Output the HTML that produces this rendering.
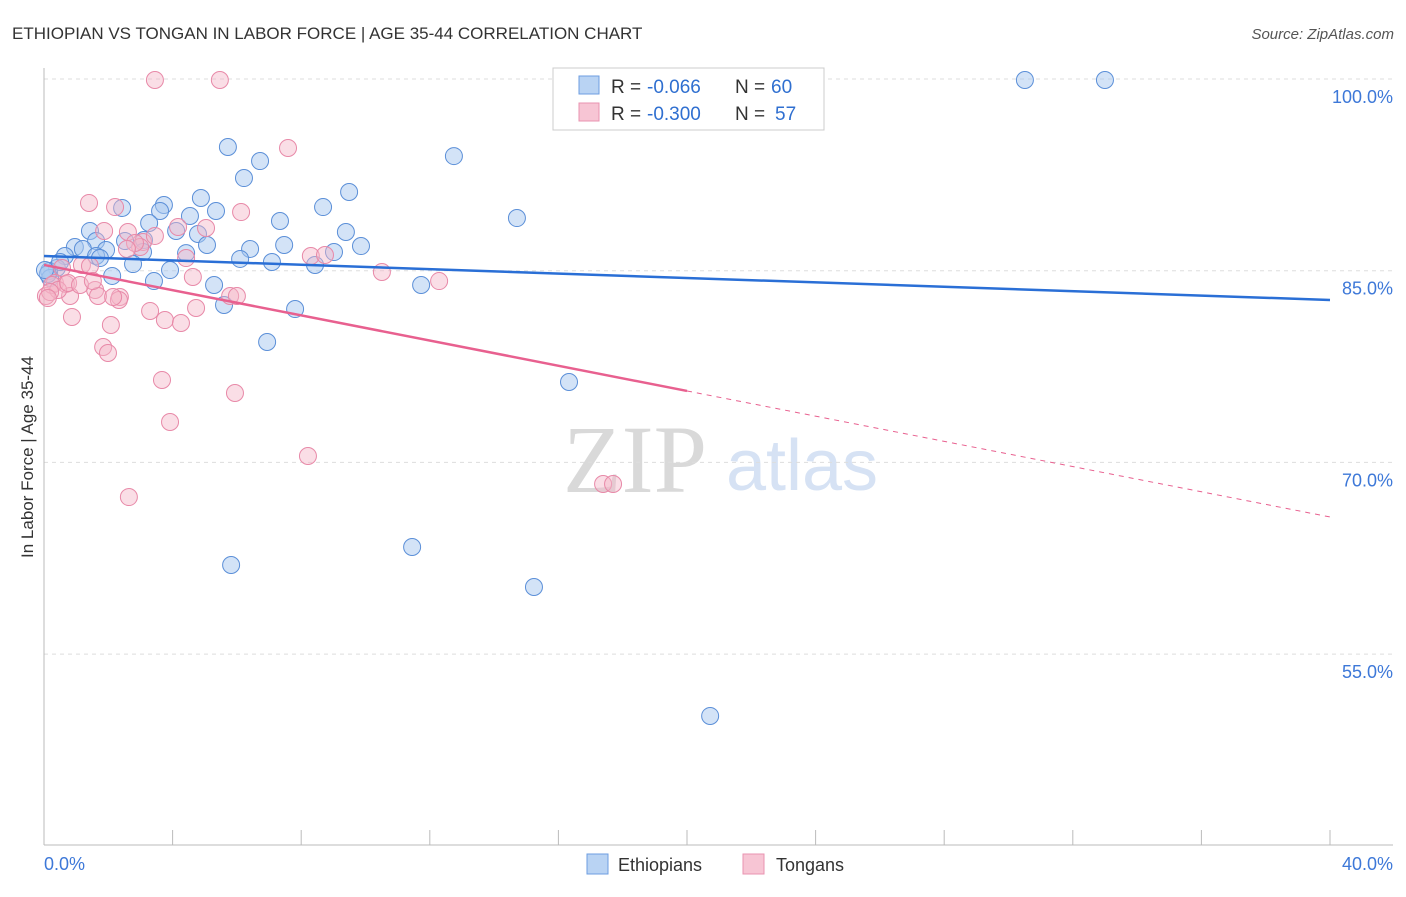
<!DOCTYPE html>
<html><head><meta charset="utf-8"><style>
body{margin:0;background:#fff;font-family:"Liberation Sans",sans-serif}
</style></head><body>
<svg id="c" width="1406" height="892" font-family="Liberation Sans, sans-serif">
<text x="12" y="39" font-size="17" fill="#333">ETHIOPIAN VS TONGAN IN LABOR FORCE | AGE 35-44 CORRELATION CHART</text>
<text x="1394" y="39" font-size="15" fill="#555" font-style="italic" text-anchor="end">Source: ZipAtlas.com</text>
<text x="33" y="457" font-size="17" fill="#333" transform="rotate(-90 33 457)" text-anchor="middle">In Labor Force | Age 35-44</text>
<text x="635" y="492" font-size="96" fill="#d9d9d9" style="font-family:'Liberation Serif',serif" text-anchor="middle">ZIP</text>
<text x="802" y="490" font-size="72" fill="#d6e2f4" text-anchor="middle">atlas</text>
<g id="grid"></g><g id="pts"></g><g id="lines"></g>
<g>
<rect x="553" y="68" width="271" height="62" fill="#fff" stroke="#ccc"/>
<rect x="579" y="76" width="20" height="18" fill="#b9d3f3" stroke="#6d9ee0"/>
<rect x="579" y="103" width="20" height="18" fill="#f7c5d4" stroke="#ea93b0"/>
<text y="93" font-size="19" fill="#333"><tspan x="611">R =</tspan><tspan x="647" fill="#2f6fd0">-0.066</tspan><tspan x="735">N =</tspan><tspan x="771" fill="#2f6fd0">60</tspan></text>
<text y="120" font-size="19" fill="#333"><tspan x="611">R =</tspan><tspan x="647" fill="#2f6fd0">-0.300</tspan><tspan x="735">N =</tspan><tspan x="775" fill="#2f6fd0">57</tspan></text>
</g>
<g>
<rect x="587" y="854" width="21" height="20" fill="#b9d3f3" stroke="#6d9ee0"/>
<text x="618" y="871" font-size="18" fill="#333">Ethiopians</text>
<rect x="743" y="854" width="21" height="20" fill="#f7c5d4" stroke="#ea93b0"/>
<text x="776" y="871" font-size="18" fill="#333">Tongans</text>
</g>
</svg>
<script>
const yTicks=[100,85,70,55];
const xTickLabels=["0.0%","40.0%"];
const blueX=[5.72,6.72,6.22,12.75,4.88,9.49,3.73,2.43,3.61,4.54,5.35,8.68,7.34,14.71,3.27,1.43,4.11,4.79,9.39,3.11,1.62,2.52,5.07,7.47,0.96,1.21,1.93,6.41,9.86,4.42,9.02,0.65,1.62,3.08,6.10,7.09,2.77,8.43,0.40,0.16,3.92,2.12,3.42,5.29,11.73,5.60,7.81,6.94,16.33,11.45,5.82,15.24,20.72,30.51,33.00,0.19,0.50,0.12,0.03,1.74];
const blueY=[94.68,93.58,92.25,93.97,90.69,91.16,90.14,89.91,89.67,89.28,89.67,89.98,88.89,89.12,88.73,88.11,88.11,87.87,88.03,87.40,87.32,87.32,87.01,87.01,86.85,86.70,86.62,86.70,86.93,86.38,86.46,86.15,86.15,86.46,85.92,85.68,85.52,85.45,85.21,84.98,85.05,84.59,84.19,83.88,83.88,82.32,82.00,79.42,76.29,63.38,61.97,60.25,50.16,99.92,99.92,84.43,85.68,84.74,85.05,85.99];
const pinkX=[3.45,5.47,7.59,1.40,2.21,6.13,4.17,5.04,1.87,2.61,3.08,3.45,4.42,8.30,8.74,2.99,1.18,1.43,0.56,10.51,4.63,12.29,0.34,0.68,1.59,2.36,1.68,0.06,5.79,0.81,6.00,3.30,4.73,3.76,4.26,0.87,2.08,1.84,1.99,3.67,5.94,3.92,8.21,2.64,17.39,17.70,0.25,0.44,0.19,0.75,2.83,2.58,1.12,2.33,1.52,0.12,2.15];
const pinkY=[99.92,99.92,94.60,90.30,89.98,89.59,88.42,88.34,88.11,88.03,87.25,87.72,85.99,86.15,86.23,86.85,85.45,85.37,85.21,84.90,84.51,84.19,84.04,83.96,83.49,82.94,83.02,83.02,83.02,83.02,83.02,81.85,82.08,81.14,80.91,81.38,80.75,79.03,78.56,76.45,75.43,73.16,70.50,67.29,68.31,68.31,83.88,83.49,83.33,84.04,87.17,86.70,83.88,82.71,84.19,82.86,82.94];
const blueTrend=[86.15,82.71];
const pinkTrend=[85.45,65.73];
const X=v=>44+v*32.15, Y=v=>79+(100-v)*12.78;
const NS="http://www.w3.org/2000/svg";
function mk(t,a,p){const e=document.createElementNS(NS,t);for(const k in a)e.setAttribute(k,a[k]);document.getElementById(p).appendChild(e);return e;}
let e;
yTicks.forEach(t=>{
 e=mk('line',{x1:44,x2:1393,y1:Y(t),y2:Y(t),stroke:'#ddd','stroke-dasharray':'4 4'},'grid');
 
 
 e=mk('text',{x:1393,y:Y(t)+24,'font-size':18,fill:'#3d78d8','text-anchor':'end'},'grid');e.textContent=t.toFixed(1)+'%';
 
 
});
e=mk('line',{x1:44,x2:44,y1:68,y2:845,stroke:'#bbb'},'grid');


e=mk('line',{x1:44,x2:1393,y1:845,y2:845,stroke:'#bbb'},'grid');


for(let i=0;i<=10;i++){e=mk('line',{x1:X(i*4),x2:X(i*4),y1:830,y2:845,stroke:'#bbb'},'grid');
 
 }
e=mk('text',{x:44,y:870,'font-size':18,fill:'#3d78d8'},'grid');e.textContent=xTickLabels[0];


e=mk('text',{x:1393,y:870,'font-size':18,fill:'#3d78d8','text-anchor':'end'},'grid');e.textContent=xTickLabels[1];


blueX.forEach((x,i)=>{e=mk('circle',{cx:X(x),cy:Y(blueY[i]),r:8.5,fill:'rgba(168,200,240,0.5)',stroke:'#5b8fd8','stroke-width':1},'pts');
 
 });
pinkX.forEach((x,i)=>{e=mk('circle',{cx:X(x),cy:Y(pinkY[i]),r:8.5,fill:'rgba(244,182,200,0.45)',stroke:'#e889a8','stroke-width':1},'pts');
 
 });
e=mk('line',{x1:X(0),y1:Y(blueTrend[0]),x2:X(40),y2:Y(blueTrend[1]),stroke:'#2a6fd6','stroke-width':2.5},'lines');


const pm=pinkTrend[0]+(pinkTrend[1]-pinkTrend[0])*0.5;
e=mk('line',{x1:X(0),y1:Y(pinkTrend[0]),x2:X(20),y2:Y(pm),stroke:'#e8608f','stroke-width':2.5},'lines');


e=mk('line',{x1:X(20),y1:Y(pm),x2:X(40),y2:Y(pinkTrend[1]),stroke:'#e8608f','stroke-width':1,'stroke-dasharray':'5 5'},'lines');


</script>
</body></html>
